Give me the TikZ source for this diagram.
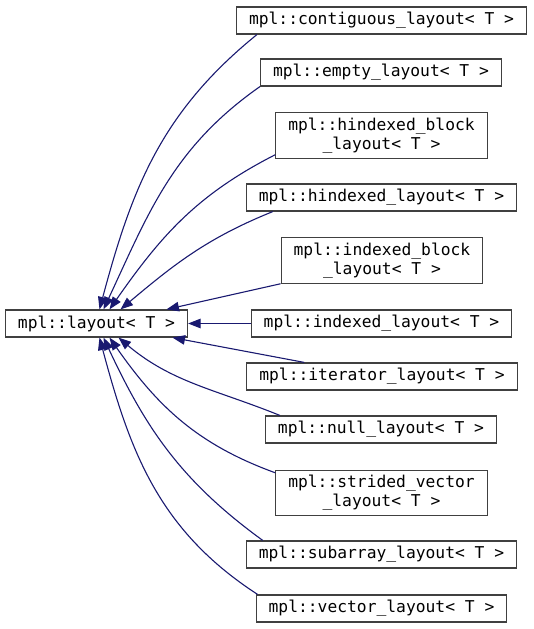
\documentclass[tikz,border=0pt]{standalone}
\usepackage{fontspec}
\setmonofont{DejaVu Sans Mono}
\usetikzlibrary{arrows.meta}

\definecolor{edgeblue}{HTML}{191970}
\definecolor{boxgray}{HTML}{404040}

\begin{document}
\begin{tikzpicture}[x=1pt,y=-1pt,
    cls/.style={rectangle,draw=boxgray,line width=1.2pt,fill=white,
        font=\fontsize{16.3}{19}\selectfont\ttfamily,align=center,
        inner xsep=12.5pt,inner ysep=5pt,minimum height=27pt},
    edge/.style={draw=edgeblue,line width=1.1pt,
        {Triangle[length=12.5pt,width=9.5pt]}-}]
    \useasboundingbox (0,0) rectangle (533,629);

    \node[cls] (layout) at (96.5, 323.5) {mpl::layout< T >};

    \node[cls] (contig) at (381.5, 20.5) {mpl::contiguous\_layout< T >};
    \node[cls] (empty) at (381, 72.5) {mpl::empty\_layout< T >};
    \node[cls] (hblock) at (381.5, 135.5) {mpl::hindexed\_block\\\_layout< T >};
    \node[cls] (hlayout) at (381.5, 197.5) {mpl::hindexed\_layout< T >};
    \node[cls] (iblock) at (382, 260.5) {mpl::indexed\_block\\\_layout< T >};
    \node[cls] (indexed) at (381.5, 323.5) {mpl::indexed\_layout< T >};
    \node[cls] (iterator) at (382, 376.5) {mpl::iterator\_layout< T >};
    \node[cls] (null) at (381, 429.5) {mpl::null\_layout< T >};
    \node[cls] (strided) at (381.5, 493) {mpl::strided\_vector\\\_layout< T >};
    \node[cls] (subarray) at (381.5, 554.5) {mpl::subarray\_layout< T >};
    \node[cls] (vector) at (381.5, 608.5) {mpl::vector\_layout< T >};

    % derived classes above
    \draw[edge] ([xshift=3pt]layout.north) to[out=75,in=219] ([xshift=21pt]contig.south west);
    \draw[edge] ([xshift=7pt]layout.north) to[out=65,in=215] (empty.south west);
    \draw[edge] ([xshift=13pt]layout.north) to[out=55,in=207] ([yshift=4pt]hblock.south west);
    \draw[edge] ([xshift=24pt]layout.north) to[out=40,in=202] ([xshift=27pt]hlayout.south west);
    \draw[edge] ([xshift=70pt]layout.north) -- (iblock.south west);
    \draw[edge] (layout.east) -- (indexed.west);
    % derived classes below
    \draw[edge] ([xshift=76pt]layout.south) -- ([xshift=58pt]iterator.north west);
    \draw[edge] ([xshift=22pt]layout.south) to[out=-40,in=158] ([xshift=15pt]null.north west);
    \draw[edge] ([xshift=13pt]layout.south) to[out=-55,in=160] ([yshift=-3pt]strided.north west);
    \draw[edge] ([xshift=7pt]layout.south) to[out=-65,in=144] ([xshift=17pt]subarray.north west);
    \draw[edge] ([xshift=3pt]layout.south) to[out=-75,in=147] ([xshift=2pt]vector.north west);
\end{tikzpicture}
\end{document}
